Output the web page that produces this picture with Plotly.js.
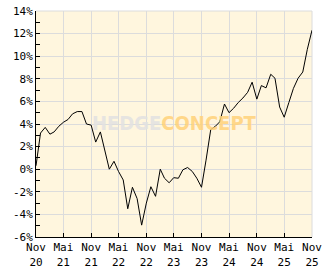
<!DOCTYPE html>
<html><head><meta charset="utf-8">
<script src="https://cdn.plot.ly/plotly-3.0.1.min.js"></script>
<style>html,body{margin:0;padding:0;background:#fff;}#chart{width:332px;height:269px;}</style>
</head><body><div id="chart"></div>
<script>
// Monthly performance (%) from Nov 2020 to Nov 2025
const startYear = 2020, startMonth = 11;
const values = [
  0.3, 3.2, 3.7, 3.1, 3.3, 3.8, 4.15, 4.4, 4.9, 5.1, 5.1, 4.0,
  3.9, 2.4, 3.3, 1.7, 0.0, 0.7, -0.2, -0.95, -3.5, -1.6, -2.6, -4.95,
  -3.0, -1.55, -2.4, 0.0, -0.8, -1.2, -0.75, -0.8, -0.05, 0.15, -0.2, -0.8,
  -1.6, 0.8, 3.5, 3.8, 4.2, 5.77, 5.0, 5.4, 5.9, 6.3, 6.8, 7.7,
  6.2, 7.4, 7.2, 8.4, 8.05, 5.5, 4.6, 5.9, 7.15, 8.05, 8.6, 10.6,
  12.3
];
const dates = values.map((v, i) => {
  const m0 = (startMonth - 1) + i;
  const y = startYear + Math.floor(m0 / 12);
  const m = (m0 % 12) + 1;
  return y + '-' + String(m).padStart(2, '0') + '-01';
});
const xTickVals = ['2020-11-01','2021-05-01','2021-11-01','2022-05-01','2022-11-01','2023-05-01','2023-11-01','2024-05-01','2024-11-01','2025-05-01','2025-11-01'];
const xTickText = ['Nov<br>20','Mai<br>21','Nov<br>21','Mai<br>22','Nov<br>22','Mai<br>23','Nov<br>23','Mai<br>24','Nov<br>24','Mai<br>25','Nov<br>25'];
const yTickVals = [-6,-4,-2,0,2,4,6,8,10,12,14];
const yTickText = ['-6%','-4%','-2%','0%','2%','4%','6%','8%','10%','12%','14%'];

const font = {family: 'DejaVu Sans Mono, monospace', size: 11, color: '#000'};
Plotly.newPlot('chart', [{
  x: dates, y: values, type: 'scatter', mode: 'lines',
  line: {color: '#000', width: 1}, hoverinfo: 'skip'
}], {
  width: 332, height: 269,
  margin: {l: 36, r: 20, t: 11, b: 32, pad: 0},
  paper_bgcolor: '#ffffff', plot_bgcolor: '#fff6de',
  font: font, showlegend: false,
  xaxis: {
    type: 'date', range: ['2020-11-01', '2025-11-01'],
    tickmode: 'array', tickvals: xTickVals, ticktext: xTickText,
    ticks: 'inside', ticklen: 4, tickcolor: '#000', tickwidth: 1,
    showline: true, linecolor: '#000', linewidth: 1,
    showgrid: true, gridcolor: '#dcdcdc', gridwidth: 1,
    zeroline: false, tickfont: font, fixedrange: true
  },
  yaxis: {
    range: [-6, 14],
    tickmode: 'array', tickvals: yTickVals, ticktext: yTickText,
    ticks: 'inside', ticklen: 4, tickcolor: '#000', tickwidth: 1,
    minor: {dtick: 1, tick0: 0, ticks: 'inside', ticklen: 4, tickcolor: '#000', showgrid: false},
    showline: true, linecolor: '#000', linewidth: 1,
    showgrid: true, gridcolor: '#dcdcdc', gridwidth: 1,
    zeroline: false, tickfont: font, fixedrange: true
  },
  shapes: [
    {type: 'line', xref: 'paper', yref: 'paper', x0: 0, x1: 1, y0: 1, y1: 1, line: {color: '#dcdcdc', width: 1}, layer: 'below'},
    {type: 'line', xref: 'paper', yref: 'paper', x0: 1, x1: 1, y0: 0, y1: 1, line: {color: '#dcdcdc', width: 1}, layer: 'below'}
  ],
  annotations: [{
    xref: 'paper', yref: 'paper', x: 0.5, y: 0.504, xanchor: 'center', yanchor: 'middle',
    text: '<b><span style="color:#e2e2e2">HEDGE</span><span style="color:#ffd27a">CONCEPT</span></b>',
    font: {family: 'Liberation Sans Narrow, DejaVu Sans Condensed, sans-serif', size: 20},
    showarrow: false, opacity: 0.85
  }]
}, {staticPlot: true, displayModeBar: false});
</script></body></html>
